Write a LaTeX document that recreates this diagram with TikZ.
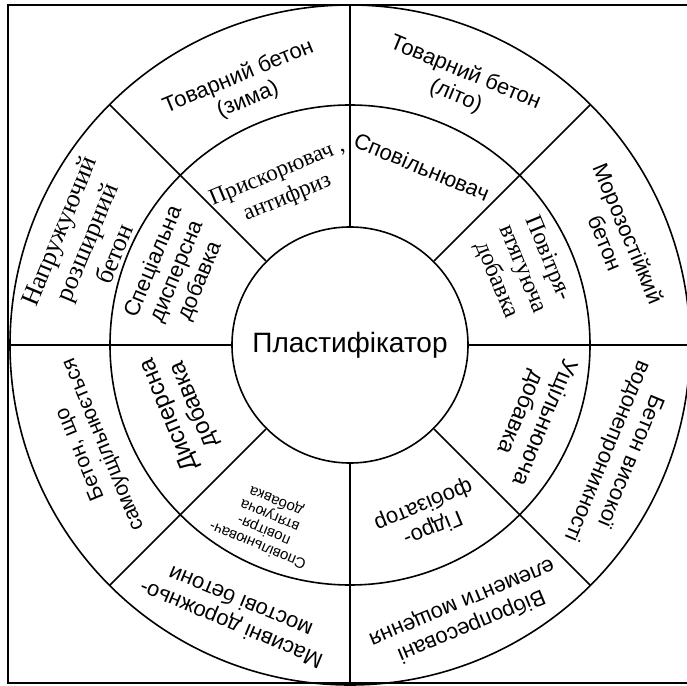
\documentclass[tikz,border=0pt]{standalone}
\usepackage{fontspec}
\setmainfont{Liberation Sans}
\newfontfamily\timesfont{Liberation Serif}
\begin{document}
\begin{tikzpicture}[x=1pt, y=1pt, line width=1.6pt,
    lbl/.style={align=center, inner sep=0pt, font=\fontsize{22}{25}\selectfont},
    serlbl/.style={align=center, inner sep=0pt, font=\timesfont\fontsize{23}{27}\selectfont},
    smalllbl/.style={align=center, inner sep=0pt, font=\fontsize{15}{16}\selectfont}]
    \useasboundingbox (-350,-340) rectangle (337,345);
    % frame (right side falls outside the picture)
    \draw (345,340) -- (-342,340) -- (-342,-338) -- (345,-338);
    \draw (0,0) circle (340);
    \draw (0,0) circle (240);
    \node[circle, draw, minimum size=236pt, inner sep=0pt, font=\fontsize{28}{32}\selectfont] (plast) at (0,0) {Пластифікатор};

    \path[draw]
    (plast.north) -- (0,340)
    (plast.south) -- (0,-338)
    (plast.west) -- (-342,0)
    (plast.east) -- (345,0)
    (plast.45) -- (45:340)
    (plast.135) -- (135:340)
    (plast.225) -- (225:340)
    (plast.315) -- (315:340);

    % outer ring
    \node[lbl, rotate=22.5] (zima) at (112.6:278) {Товарний бетон\\(зима)};
    \node[lbl, rotate=-22.5] (lito) at (67:283) {Товарний бетон\\(літо)};
    \node[lbl, rotate=-67.5] (moroz) at (21.8:288) {Морозостійкий\\бетон};
    \node[lbl, rotate=-112.5] (vodo) at (-22.5:290) {Бетон високої\\водонепроникності};
    \node[lbl, rotate=-157.5] (vibro) at (-66.6:293) {Вібропресовані\\елементи мощення};
    \node[lbl, rotate=157.5] (masyv) at (246.9:292) {Масивні дорожньо-\\мостові бетони};
    \node[lbl, font=\fontsize{21}{25}\selectfont, rotate=112.5] (samo) at (202:278) {Бетон, що\\самоущільнюється};
    \node[serlbl, font=\timesfont\fontsize{26}{30}\selectfont, rotate=67.5] (napr) at (158.7:283) {Напружуючий\\розширний\\бетон};

    % middle ring
    \node[serlbl, rotate=22.5] (pryskor) at (113:173) {Прискорювач ,\\антифриз};
    \node[lbl, rotate=-22.5] (spovil) at (68:192) {Сповільнювач};
    \node[serlbl, font=\timesfont\fontsize{24}{28}\selectfont, rotate=-67.5] (povitr) at (23.7:188) {Повітря-\\втягуюча\\добавка};
    \node[lbl, font=\fontsize{23}{26}\selectfont, rotate=-112.5] (ushchil) at (-21.6:196) {Ущільнююча\\добавка};
    \node[lbl, rotate=-157.5] (hidro) at (-65.5:188) {Гідро-\\фобізатор};
    \node[smalllbl, rotate=157.5] (spovpov) at (245:196) {Сповільнювач-\\повітря-\\втягуюча\\добавка};
    \node[lbl, font=\fontsize{24}{27}\selectfont, rotate=112.5] (dysp) at (201:180) {Дисперсна\\добавка};
    \node[lbl, rotate=67.5] (spets) at (157:188) {Спеціальна\\дисперсна\\добавка};
\end{tikzpicture}
\end{document}
